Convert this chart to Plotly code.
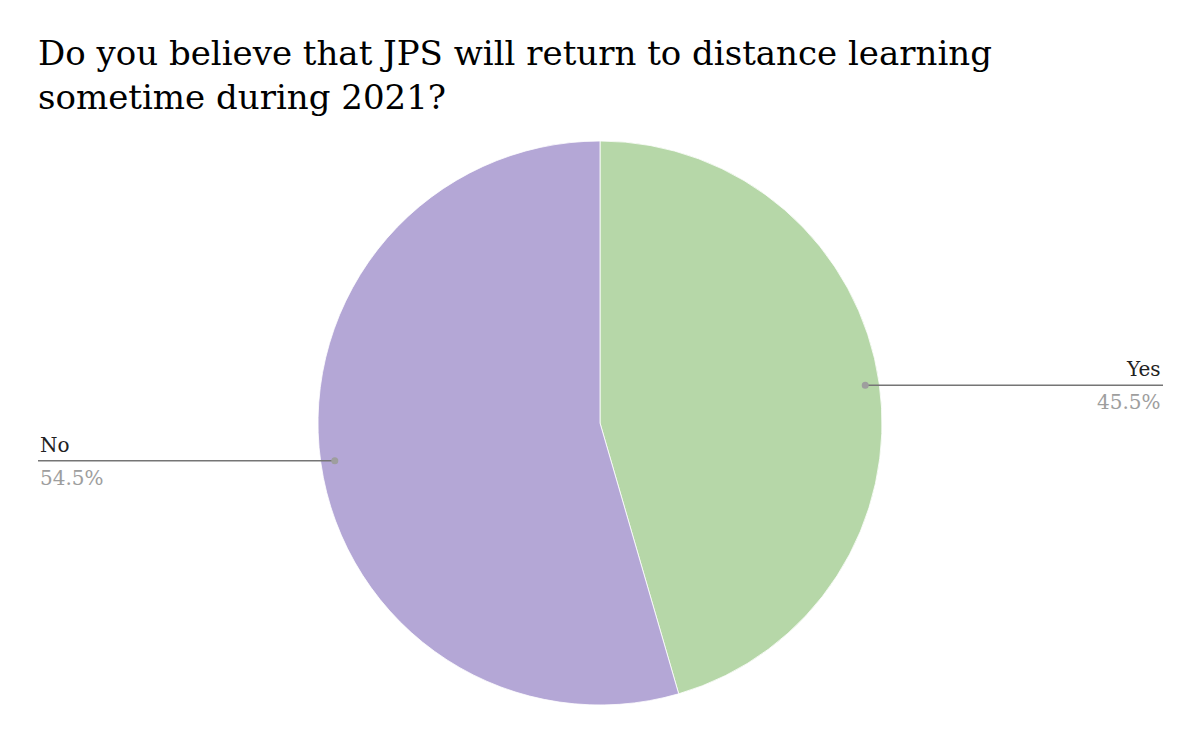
import math
import plotly.graph_objects as go

labels = ["Yes", "No"]
values = [45.5, 54.5]
colors = ["#b6d7a8", "#b4a7d6"]
title_lines = ["Do you believe that JPS will return to distance learning", "sometime during 2021?"]

W, H = 1200, 742
OFF = 8  # page body margin
cx, cy, r = 600 - OFF, 423 - OFF, 282  # pie centre/radius in pixels (top-left origin)

fig = go.Figure(go.Pie(
    labels=labels, values=values, sort=False, direction="clockwise", rotation=0,
    marker=dict(colors=colors, line=dict(color="white", width=0.8)),
    textinfo="none", hoverinfo="label+percent", showlegend=False,
    domain=dict(x=[(cx - r) / W, (cx + r) / W], y=[(H - cy - r) / H, (H - cy + r) / H]),
))

font_family = "Georgia, 'DejaVu Serif', serif"
X = lambda x: x / W
Y = lambda y: (H - y) / H
shapes, annotations = [], []
total = sum(values)
cum = 0
for lab, v in zip(labels, values):
    mid = (cum + v / 2) / total * 2 * math.pi
    cum += v
    px = cx + 0.95 * r * math.sin(mid)
    py = cy - 0.95 * r * math.cos(mid)
    right = math.sin(mid) > 0
    ex = (1163 if right else 38) - OFF
    shapes.append(dict(type="line", xref="paper", yref="paper", x0=X(px), y0=Y(py), x1=X(ex), y1=Y(py),
                       line=dict(color="#757575", width=1.5)))
    shapes.append(dict(type="circle", xref="paper", yref="paper", x0=X(px - 3.5), x1=X(px + 3.5),
                       y0=Y(py + 3.5), y1=Y(py - 3.5), fillcolor="#9e9e9e", line=dict(width=0)))
    anchor = "right" if right else "left"
    annotations.append(dict(xref="paper", yref="paper", x=X(ex), y=Y(py - 2), xanchor=anchor, yanchor="bottom",
                            text=lab, showarrow=False, font=dict(family=font_family, size=20, color="#222222")))
    annotations.append(dict(xref="paper", yref="paper", x=X(ex), y=Y(py + 3), xanchor=anchor, yanchor="top",
                            text=f"{v / total * 100:.1f}%", showarrow=False,
                            font=dict(family=font_family, size=20, color="#9e9e9e")))

annotations.append(dict(xref="paper", yref="paper", x=X(38 - OFF - 2), y=Y(75 - OFF),
                        xanchor="left", yanchor="middle", align="left", text="<br>".join(title_lines),
                        showarrow=False, font=dict(family=font_family, size=34, color="#000000")))

fig.update_layout(
    width=W, height=H, margin=dict(l=0, r=0, t=0, b=0),
    paper_bgcolor="white", plot_bgcolor="white",
    shapes=shapes, annotations=annotations,
)
fig.write_html("out.html")
